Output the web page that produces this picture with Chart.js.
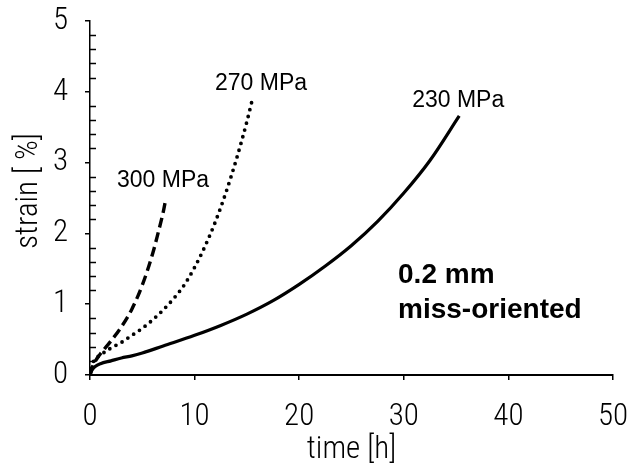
<!DOCTYPE html>
<html>
<head>
<meta charset="utf-8">
<script src="https://cdn.jsdelivr.net/npm/chart.js@4"></script>
<style>
  html, body { margin: 0; padding: 0; background: #fff; }
  canvas { display: block; }
</style>
</head>
<body>
<canvas id="c" width="643" height="470"></canvas>
<script>
// ---- data ----
const t230 = [0, 0.2, 0.5, 1, 2, 3, 4, 5, 7, 10, 12.5, 15, 17.5, 20, 22.5, 25, 27.5, 30, 32.5, 35.3];
const s230 = [0, 0.07, 0.12, 0.16, 0.2, 0.24, 0.27, 0.31, 0.41, 0.56, 0.7, 0.86, 1.05, 1.28, 1.54, 1.83, 2.17, 2.57, 3.03, 3.66];

const t270 = [0, 0.3, 1, 2, 3, 4, 5, 6, 7, 8, 9, 10, 11, 12, 13, 14, 15, 15.5];
const s270 = [0, 0.18, 0.28, 0.38, 0.46, 0.56, 0.66, 0.78, 0.92, 1.08, 1.27, 1.52, 1.82, 2.17, 2.58, 3.05, 3.58, 3.88];

const t300 = [0, 0.3, 0.7, 1, 2, 3, 4, 5, 6, 6.5, 7, 7.2];
const s300 = [0, 0.14, 0.24, 0.3, 0.48, 0.68, 0.93, 1.27, 1.72, 2.0, 2.3, 2.45];

const seriesNames = ['230 MPa', '270 MPa', '300 MPa'];
const xTicks = [0, 10, 20, 30, 40, 50];
const yTicks = [0, 1, 2, 3, 4, 5];
const xTitle = 'time [h]';
const yTitle = 'strain [ %]';
const noteLines = ['0.2 mm', 'miss-oriented'];

// ---- helpers ----
const pts = (xs, ys) => xs.map((x, i) => ({ x: x, y: ys[i] }));
const NARROW = "'Roboto Condensed', 'Liberation Sans Narrow', sans-serif";
const ARIAL = "'Liberation Sans', Arial, sans-serif";
const AXFONT = 31;
const AXWEIGHT = 300;

const annotations = {
  id: 'annotations',
  afterDraw(chart) {
    const ctx = chart.ctx;
    const xs = chart.scales.x, ys = chart.scales.y;
    const area = chart.chartArea;
    ctx.save();
    // minor inward ticks on y axis
    ctx.strokeStyle = '#000';
    ctx.lineWidth = 1.5;
    for (let v = 0.2; v < 5; v += 0.2) {
      if (Math.abs(v - Math.round(v)) < 1e-6) continue;
      const py = Math.round(ys.getPixelForValue(v)) + 0.5;
      ctx.beginPath();
      ctx.moveTo(area.left, py);
      ctx.lineTo(area.left + 6, py);
      ctx.stroke();
    }
    // curve labels (data coordinates)
    ctx.fillStyle = '#000';
    ctx.textAlign = 'center';
    ctx.textBaseline = 'middle';
    ctx.font = '23px ' + ARIAL;
    const lbl = [[seriesNames[2], 6.98, 2.75], [seriesNames[1], 16.35, 4.12], [seriesNames[0], 35.2, 3.88]];
    lbl.forEach(([txt, x, y]) => ctx.fillText(txt, xs.getPixelForValue(x), ys.getPixelForValue(y)));
    // bold note
    ctx.font = 'bold 28px ' + ARIAL;
    ctx.textAlign = 'left';
    ctx.textBaseline = 'alphabetic';
    ctx.fillText(noteLines[0], xs.getPixelForValue(29.45), 283);
    ctx.fillText(noteLines[1], xs.getPixelForValue(29.45), 318);
    // y title
    ctx.font = AXWEIGHT + ' ' + AXFONT + 'px ' + NARROW;
    ctx.translate(29, 191);
    ctx.rotate(-Math.PI / 2);
    ctx.textAlign = 'center';
    ctx.textBaseline = 'middle';
    ctx.fillText(yTitle, 0, 0);
    ctx.restore();
  }
};

new Chart(document.getElementById('c'), {
  type: 'line',
  data: {
    datasets: [
      { label: seriesNames[0], data: pts(t230, s230), borderColor: '#000', borderWidth: 3.2,
        pointRadius: 0, cubicInterpolationMode: 'monotone', fill: false },
      { label: seriesNames[1], data: pts(t270, s270), borderColor: '#000', borderWidth: 3.8,
        borderDash: [0, 7], borderCapStyle: 'round', pointRadius: 0, cubicInterpolationMode: 'monotone', fill: false },
      { label: seriesNames[2], data: pts(t300, s300), borderColor: '#000', borderWidth: 3.4,
        borderDash: [10, 5], pointRadius: 0, cubicInterpolationMode: 'monotone', fill: false }
    ]
  },
  options: {
    responsive: false,
    animation: false,
    events: [],
    layout: { padding: { top: 21, right: 30, bottom: 0, left: 0 } },
    plugins: { legend: { display: false }, tooltip: { enabled: false } },
    scales: {
      x: {
        type: 'linear', min: 0, max: 50,
        afterBuildTicks: s => { s.ticks = xTicks.map(v => ({ value: v })); },
        afterFit: s => { s.height = 95; s.paddingLeft = 0; s.paddingRight = 0; },
        ticks: { color: '#000', padding: 19, font: { family: NARROW, size: AXFONT, weight: AXWEIGHT } },
        grid: { display: true, drawOnChartArea: false, drawTicks: true, tickLength: 5, color: '#000', lineWidth: 1.5 },
        border: { display: true, color: '#000', width: 2 },
        title: { display: true, text: xTitle, color: '#000', font: { family: NARROW, size: AXFONT, weight: AXWEIGHT, lineHeight: 1.2 }, padding: { top: 0, bottom: 1 } }
      },
      y: {
        type: 'linear', min: 0, max: 5,
        afterBuildTicks: s => { s.ticks = yTicks.map(v => ({ value: v })); },
        afterFit: s => { s.width = 90; s.paddingTop = 0; s.paddingBottom = 0; },
        ticks: { color: '#000', padding: 17, font: { family: NARROW, size: AXFONT, weight: AXWEIGHT } },
        grid: { display: true, drawOnChartArea: false, drawTicks: true, tickLength: 5, color: '#000', lineWidth: 1.5 },
        border: { display: true, color: '#000', width: 1.5 }
      }
    }
  },
  plugins: [annotations]
});
</script>
</body>
</html>
